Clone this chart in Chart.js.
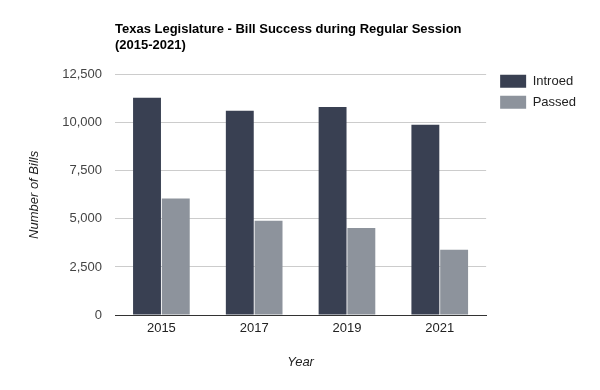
<!DOCTYPE html>
<html>
<head>
<meta charset="utf-8">
<script src="https://cdn.jsdelivr.net/npm/chart.js@4/dist/chart.umd.min.js"></script>
<style>
  html, body { margin: 0; padding: 0; background: #fff; }
  #wrap { position: relative; width: 600px; height: 390px; }
</style>
</head>
<body>
<div id="wrap"><canvas id="c" width="600" height="390"></canvas></div>
<script>
const years = ['2015', '2017', '2019', '2021'];
const introed = [11300, 10630, 10830, 9900];
const passed = [6060, 4900, 4530, 3390];
const yTicks = [0, 2500, 5000, 7500, 10000, 12500];

const FONT = '"Liberation Sans", Arial, sans-serif';

const legendShift = {
  id: 'legendShift',
  afterLayout(chart) {
    const l = chart.legend;
    if (l) { l.top -= 8; l.bottom -= 8; l.left += 6; l.right += 6; }
  }
};

new Chart(document.getElementById('c'), {
  type: 'bar',
  data: {
    labels: years,
    datasets: [
      { label: 'Introed', data: introed, backgroundColor: '#394052' },
      { label: 'Passed', data: passed, backgroundColor: '#8d939c' }
    ]
  },
  options: {
    responsive: false,
    animation: false,
    devicePixelRatio: 1,
    layout: { padding: { top: 10, left: 15, right: 20, bottom: 20 } },
    datasets: { bar: { categoryPercentage: 0.62, barPercentage: 0.97 } },
    plugins: {
      title: {
        display: true,
        text: ['Texas Legislature - Bill Success during Regular Session', '(2015-2021)'],
        align: 'start',
        fullSize: false,
        color: '#000',
        font: { family: FONT, size: 13, weight: 'bold', lineHeight: 1.3 },
        padding: { top: 10.5, bottom: 20.5 }
      },
      legend: {
        position: 'right',
        align: 'start',
        fullSize: false,
        labels: {
          boxWidth: 26,
          boxHeight: 13,
          padding: 8,
          color: '#222',
          font: { family: FONT, size: 13 }
        }
      },
      tooltip: { enabled: false }
    },
    scales: {
      x: {
        grid: { display: false, drawTicks: false },
        border: { display: true, color: '#333', width: 1 },
        ticks: { color: '#222', padding: 6, font: { family: FONT, size: 13 } },
        title: { display: true, text: 'Year', color: '#222', padding: { top: 0, bottom: 0 },
                 font: { family: FONT, size: 13, style: 'italic' } },
        afterFit(s) { s.height = 55; }
      },
      y: {
        min: 0, max: 12500,
        afterBuildTicks(s) { s.ticks = yTicks.map(v => ({ value: v })); },
        grid: { color: '#cccccc', drawTicks: false },
        border: { display: false },
        ticks: {
          color: '#444', padding: 13, font: { family: FONT, size: 13 },
          callback: v => v.toLocaleString('en-US')
        },
        title: { display: true, text: 'Number of Bills', color: '#222', padding: { top: 12, bottom: 0 },
                 font: { family: FONT, size: 13, style: 'italic' } },
        afterFit(s) { s.width = 100; }
      }
    }
  },
  plugins: [legendShift]
});
</script>
</body>
</html>
